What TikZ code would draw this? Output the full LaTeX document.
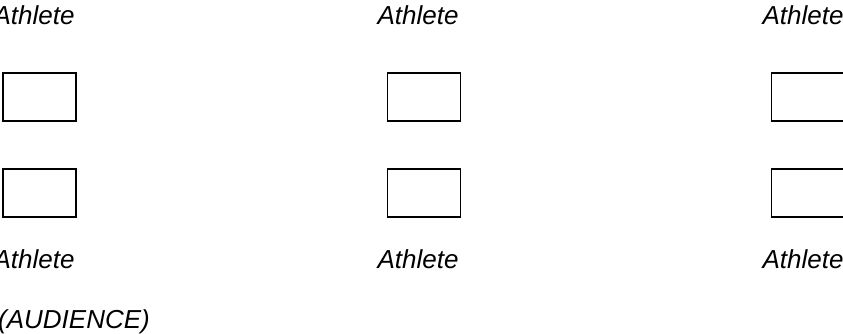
\documentclass[tikz,border=0pt]{standalone}
\usepackage{fontspec}
\setmainfont{Liberation Sans}
\begin{document}
\begin{tikzpicture}[x=1pt,y=-1pt,
  lbl/.style={anchor=base,inner sep=0pt,font=\fontsize{26}{30}\selectfont\itshape},
  seat/.style={draw=black,line width=1.6pt,minimum width=73pt,minimum height=48pt,inner sep=0pt}]
\useasboundingbox (0,0) rectangle (843,333);
\clip (0,0) rectangle (843,333);
\node[lbl] (t1) at (34,24) {Athlete};
\node[lbl] (t2) at (418,24) {Athlete};
\node[lbl] (t3) at (803,24) {Athlete};
\node[seat] (a1) at (39.5,97) {};
\node[seat] (a2) at (424,97) {};
\node[seat] (a3) at (808,97) {};
\node[seat] (b1) at (39.5,193) {};
\node[seat] (b2) at (424,193) {};
\node[seat] (b3) at (808,193) {};
\node[lbl] (u1) at (34,268) {Athlete};
\node[lbl] (u2) at (418,268) {Athlete};
\node[lbl] (u3) at (803,268) {Athlete};
\node[lbl,anchor=base west] (aud) at (-2,328) {(AUDIENCE)};
\end{tikzpicture}
\end{document}
